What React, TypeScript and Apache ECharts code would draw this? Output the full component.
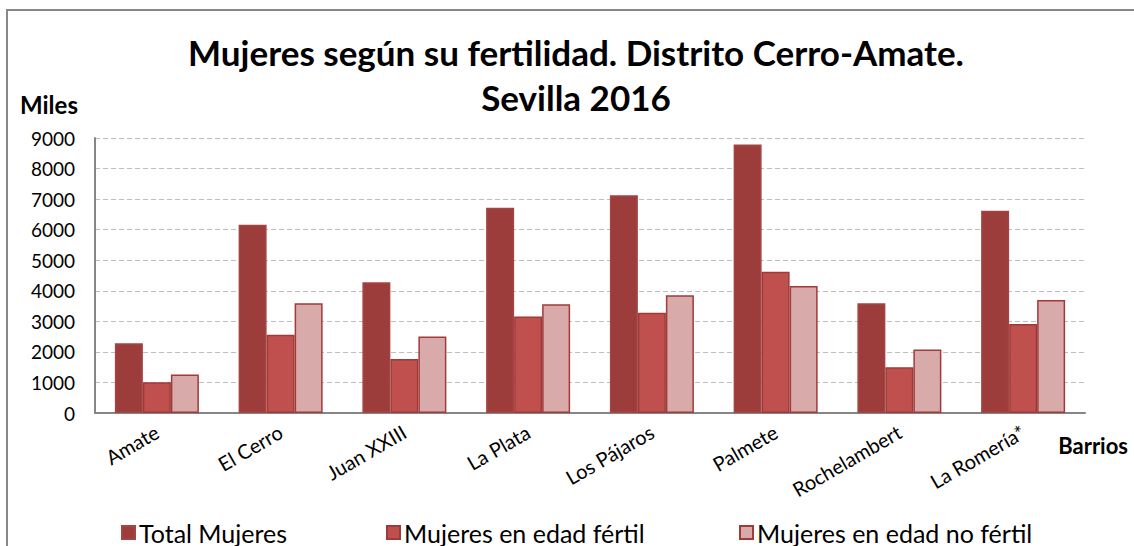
import React, { useEffect, useRef } from "react";
import * as echarts from "echarts";

const categories = ["Amate", "El Cerro", "Juan XXIII", "La Plata", "Los Pájaros", "Palmete", "Rochelambert", "La Romería*"];
const totalMujeres = [2280, 6160, 4280, 6715, 7130, 8790, 3590, 6620];
const mujeresFertil = [1010, 2560, 1765, 3155, 3285, 4625, 1500, 2915];
const mujeresNoFertil = [1260, 3595, 2505, 3560, 3850, 4160, 2080, 3700];
const seriesNames = ["Total Mujeres", "Mujeres en edad fértil", "Mujeres en edad no fértil"];
const titleText = "Mujeres según su fertilidad. Distrito Cerro-Amate.\nSevilla 2016";

const FONT = "Lato, 'Open Sans', sans-serif";

export default function App() {
  const ref = useRef<HTMLDivElement>(null);
  useEffect(() => {
    if (!ref.current) return;
    const chart = echarts.init(ref.current, undefined, { renderer: "svg" });
    const fills = ["#9C3C3B", "#C0504D", "#D9AAAA"];
    const borders = ["#A44544", "#9E3B3A", "#A23A3A"];
    const datas = [totalMujeres, mujeresFertil, mujeresNoFertil];
    const legendLefts = [121, 386, 739];
    chart.setOption({
      animation: false,
      backgroundColor: "#ffffff",
      textStyle: { fontFamily: FONT },
      title: {
        text: titleText,
        left: 576,
        top: 29,
        padding: 0,
        textAlign: "center",
        textStyle: { fontSize: 35, fontWeight: "bold", color: "#000", lineHeight: 45, fontFamily: FONT },
      },
      graphic: [
        {
          type: "rect",
          shape: { x: 7, y: 10, width: 1200, height: 600 },
          style: { fill: "none", stroke: "#888888", lineWidth: 2 },
          silent: true,
        },
        {
          type: "text",
          left: 20,
          top: 92,
          style: { text: "Miles", font: `bold 24px ${FONT}`, fill: "#000" },
        },
        {
          type: "text",
          right: 6,
          top: 434,
          style: { text: "Barrios", font: `bold 22px ${FONT}`, fill: "#000" },
        },
      ],
      legend: seriesNames.map((n, i) => ({
        data: [n],
        left: legendLefts[i],
        top: 520,
        padding: 0,
        itemWidth: 13,
        itemHeight: 13,
        icon: "rect",
        itemGap: 6,
        textStyle: { fontSize: 25, color: "#000", fontFamily: FONT, padding: [0, 0, 0, -1] },
      })),
      grid: { left: 95, right: 49, top: 138, bottom: 133 },
      xAxis: {
        type: "category",
        data: categories,
        axisLine: { lineStyle: { color: "#868686", width: 2 } },
        axisTick: { show: false },
        axisLabel: { rotate: 30, fontSize: 20, color: "#000", margin: 17, interval: 0, fontFamily: FONT },
      },
      yAxis: {
        type: "value",
        min: 0,
        max: 9000,
        interval: 1000,
        axisLine: { show: true, lineStyle: { color: "#868686", width: 2 } },
        axisTick: { show: false },
        axisLabel: { fontSize: 19, color: "#000", margin: 20, fontFamily: FONT, formatter: (v: number) => String(v) },
        splitLine: { lineStyle: { color: "#BFBFBF", type: [5, 3], width: 1 } },
      },
      series: seriesNames.map((n, i) => ({
        name: n,
        type: "bar",
        data: datas[i],
        barWidth: 28,
        barGap: "0%",
        itemStyle: { color: fills[i], borderColor: borders[i], borderWidth: 1.5 },
      })),
    });
    return () => chart.dispose();
  }, []);
  return (
    <div
      ref={ref}
      style={{ position: "fixed", left: 0, top: 0, width: 1134, height: 546 }}
    />
  );
}
